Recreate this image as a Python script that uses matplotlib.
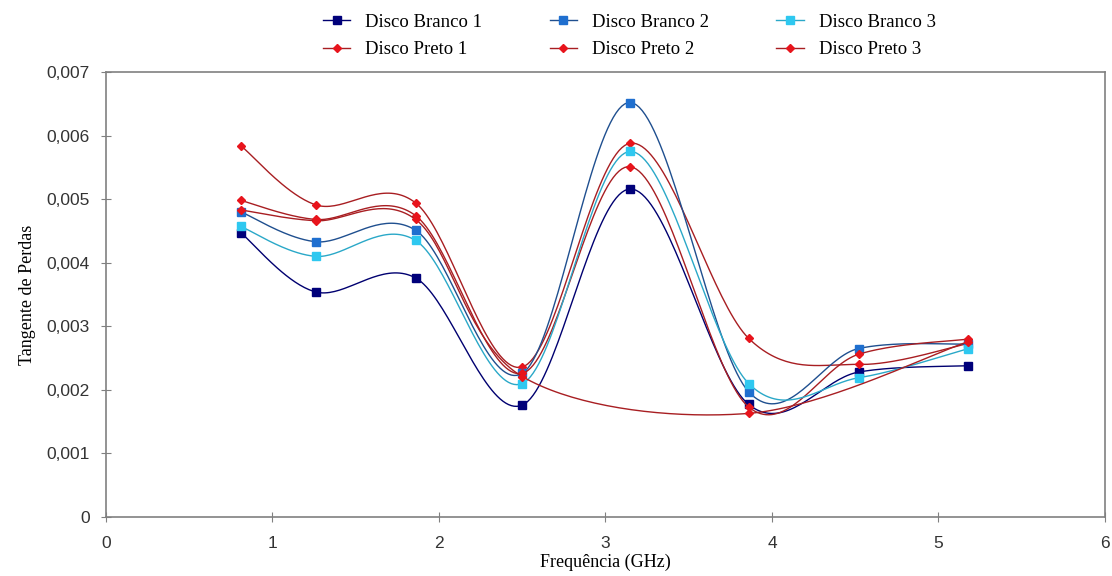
import numpy as np
import matplotlib
matplotlib.use('Agg')
import matplotlib.pyplot as plt
from matplotlib.ticker import FuncFormatter, MultipleLocator

# frequencias medidas (GHz)
freq = [0.81, 1.26, 1.86, 2.50, 3.15, 3.86, 4.52, 5.18]
freq_p3 = [0.81, 1.26, 1.86, 2.50, 3.86, 5.18]  # disco preto 3 sem 3,15 e 4,52

# tangente de perdas
branco1 = [0.00447, 0.00354, 0.00376, 0.00176, 0.00516, 0.00177, 0.00228, 0.00238]
branco2 = [0.00480, 0.00433, 0.00451, 0.00226, 0.00652, 0.00197, 0.00265, 0.00272]
branco3 = [0.00457, 0.00410, 0.00435, 0.00210, 0.00575, 0.00210, 0.00219, 0.00265]
preto1 = [0.00584, 0.00491, 0.00494, 0.00236, 0.00588, 0.00281, 0.00240, 0.00273]
preto2 = [0.00498, 0.00468, 0.00474, 0.00226, 0.00551, 0.00173, 0.00256, 0.00280]
preto3 = [0.00483, 0.00466, 0.00468, 0.00221, 0.00163, 0.00276]


def smooth(x, y, n=40):
    # curva suavizada tipo excel (bezier catmull-rom)
    p = np.column_stack([x, y]).astype(float)
    p = np.vstack([p[0], p, p[-1]])
    t = np.linspace(0, 1, n)[:, None]
    out = []
    for i in range(1, len(p) - 2):
        p0, p1, p2, p3 = p[i - 1], p[i], p[i + 1], p[i + 2]
        c1 = p1 + (p2 - p0) / 6
        c2 = p2 - (p3 - p1) / 6
        seg = ((1 - t) ** 3) * p1 + 3 * ((1 - t) ** 2) * t * c1 + 3 * (1 - t) * t ** 2 * c2 + t ** 3 * p2
        out.append(seg)
    out = np.vstack(out)
    return out[:, 0], out[:, 1]


fig = plt.figure(figsize=(11.12, 5.76), dpi=100)
ax = fig.add_axes([0.0953, 0.1024, 0.8984, 0.7726])

series = [
    ('Disco Branco 1', freq, branco1, '#000070', '#00007a', 's'),
    ('Disco Preto 1', freq, preto1, '#a81e22', '#e8141c', 'D'),
    ('Disco Branco 2', freq, branco2, '#1f4f8f', '#1f6fcf', 's'),
    ('Disco Preto 2', freq, preto2, '#a81e22', '#e8141c', 'D'),
    ('Disco Branco 3', freq, branco3, '#2aa8c8', '#2ec8f0', 's'),
    ('Disco Preto 3', freq_p3, preto3, '#a81e22', '#e8141c', 'D'),
]

handles = []
for name, x, y, lc, mc, mk in series:
    xs, ys = smooth(x, y)
    ax.plot(xs, ys, color=lc, lw=1.0)
    ms = 5.5 if mk == 's' else 4.3
    ax.plot(x, y, ls='none', marker=mk, ms=ms, mfc=mc, mec=mc)
    h, = ax.plot([], [], color=lc, lw=1.0, marker=mk, ms=ms, mfc=mc, mec=mc, label=name)
    handles.append(h)

ax.set_xlim(0, 6)
ax.set_ylim(0, 0.007)
ax.xaxis.set_major_locator(MultipleLocator(1))
ax.yaxis.set_major_locator(MultipleLocator(0.001))
ax.yaxis.set_major_formatter(FuncFormatter(lambda v, p: '0' if abs(v) < 1e-12 else ('%.3f' % v).replace('.', ',')))

for s in ax.spines.values():
    s.set_color('#808080')
    s.set_linewidth(1.2)
ax.tick_params(direction='inout', length=7, color='#808080', labelsize=12.5)
ax.tick_params(axis='x', pad=10)
ax.tick_params(axis='y', pad=8)
for lab in ax.get_xticklabels() + ax.get_yticklabels():
    lab.set_family('Liberation Sans')
    lab.set_color('#333333')

ax.set_xlabel('Frequência (GHz)', family='Liberation Serif', fontsize=13, labelpad=2)
ax.set_ylabel('Tangente de Perdas', family='Liberation Serif', fontsize=13, labelpad=8)

fig.legend(handles=handles, ncol=3, loc='center', bbox_to_anchor=(0.566, 0.9375),
           frameon=False, prop={'family': 'Liberation Serif', 'size': 13.5},
           handlelength=1.45, handletextpad=0.8, columnspacing=3.6, labelspacing=0.55)

fig.savefig('out.png', dpi=100)
